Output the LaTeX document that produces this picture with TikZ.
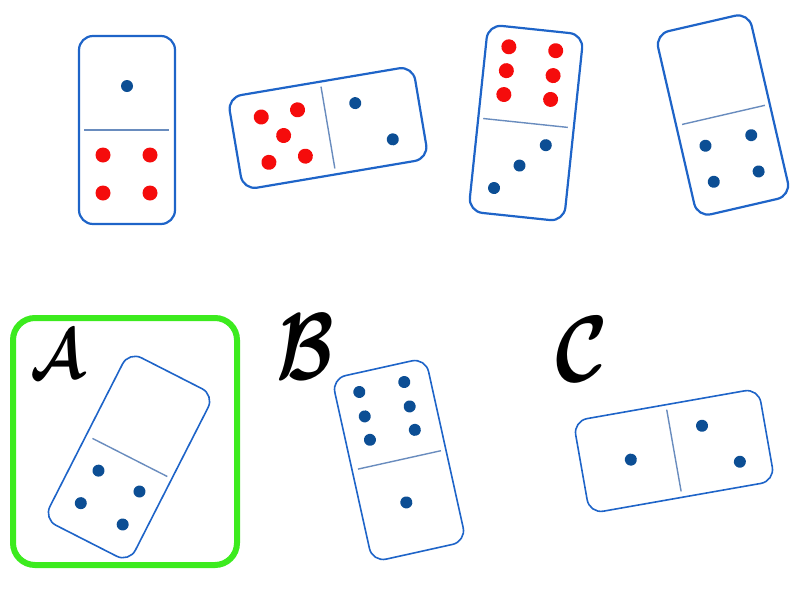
\documentclass[tikz,border=0pt]{standalone}
\usepackage{bm}
\definecolor{domblue}{RGB}{30,100,200}
\definecolor{pipblue}{RGB}{12,78,148}
\definecolor{pipred}{RGB}{245,12,12}
\definecolor{divline}{RGB}{105,140,190}
\definecolor{pickgreen}{RGB}{60,235,30}
\tikzset{domino/.style={draw=domblue,line width=2.2pt,rounded corners=14pt,fill=white},
  thindomino/.style={domino,line width=1.6pt},
  divider/.style={draw=divline,line width=1.4pt},
  redpip/.style={fill=pipred},
  bluepip/.style={fill=pipblue},
  pickbox/.style={draw=pickgreen,line width=6pt,rounded corners=22pt},
  letter/.style={inner sep=0pt}}

\begin{document}
\begin{tikzpicture}[x=1pt,y=-1pt]
\useasboundingbox (0,0) rectangle (800,600);
\begin{scope}[shift={(127,130)}]
\draw[domino] (-48,-94) rectangle (48,94);
\draw[divider] (-43,0) -- (42,0);
\fill[bluepip] (0,-44) circle (6);
\foreach \p in {(-24,25),(23,25),(-24,63),(23,63)} \fill[redpip] \p circle (7.5);
\end{scope}
\begin{scope}[shift={(328,128)},rotate=9.6]
\draw[domino] (-94,-47) rectangle (94,47);
\draw[divider] (0,-42) -- (0,41);
\foreach \p in {(-64,-22),(-27,-23),(-45,0),(-64,24),(-27,24)} \fill[redpip] \p circle (7.5);
\foreach \p in {(31,-20),(62,22)} \fill[bluepip] \p circle (6);
\end{scope}
\begin{scope}[shift={(526,123)},rotate=-6]
\draw[domino] (-48,-94) rectangle (48,94);
\draw[divider] (-43,0) -- (42,0);
\foreach \p in {(-25,-74),(-25,-50),(-25,-26),(22,-75),(22,-50),(22,-26)} \fill[redpip] \p circle (7.5);
\foreach \p in {(22,20),(-2,43),(-25,68)} \fill[bluepip] \p circle (6);
\end{scope}
\begin{scope}[shift={(723,115)},rotate=13]
\draw[domino] (-48,-94) rectangle (48,94);
\draw[divider] (-42,0) -- (43,0);
\foreach \p in {(-24,26),(23,26),(-24,63),(22,63)} \fill[bluepip] \p circle (6);
\end{scope}
\draw[pickbox] (13,318) rectangle (237,565);
\node[letter,xscale=5.8,yscale=7] (labA) at (57,354) {$\bm{\mathcal{A}}$};
\node[letter,xscale=7.5,yscale=9.5] (labB) at (305,347) {$\bm{\mathcal{B}}$};
\node[letter,xscale=8,yscale=9.4] (labC) at (582,349) {$\bm{\mathcal{C}}$};
\begin{scope}[shift={(129,457)},rotate=-27]
\draw[thindomino] (-48,-94) rectangle (48,94);
\draw[divider] (-41,0) -- (43,0);
\foreach \p in {(-21,26),(25,26),(-22,63),(25,63)} \fill[bluepip] \p circle (6);
\end{scope}
\begin{scope}[shift={(399,460)},rotate=12.5]
\draw[thindomino] (-48,-94) rectangle (48,94);
\draw[divider] (-42,0) -- (43,0);
\foreach \p in {(-24,-75),(-24,-50),(-24,-26),(22,-75),(22,-50),(22,-26),(-2,43)} \fill[bluepip] \p circle (6);
\end{scope}
\begin{scope}[shift={(674,451)},rotate=10]
\draw[thindomino] (-94,-47) rectangle (94,47);
\draw[divider] (0,-42) -- (0,41);
\foreach \p in {(-44,1),(32,-20),(63,22)} \fill[bluepip] \p circle (6);
\end{scope}
\end{tikzpicture}
\end{document}
